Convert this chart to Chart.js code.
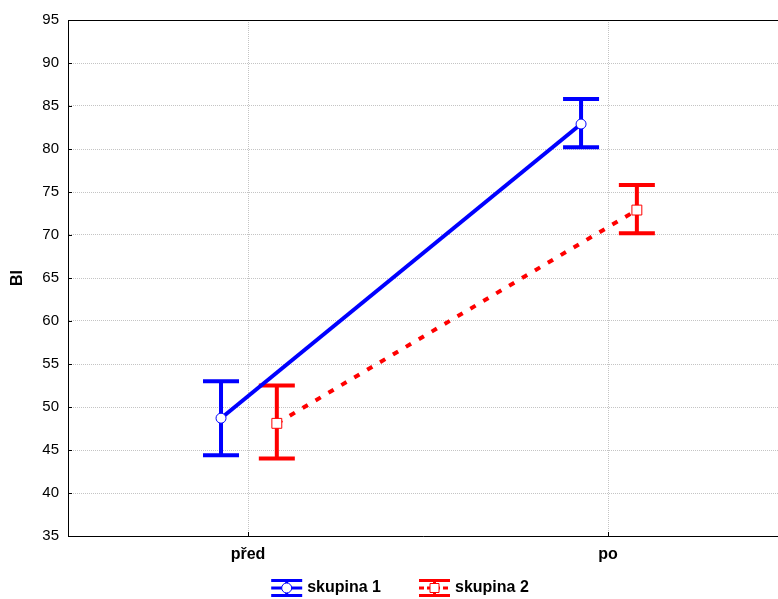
<!DOCTYPE html>
<html lang="cs">
<head>
<meta charset="UTF-8">
<title>BI před / po</title>
<script src="https://cdn.jsdelivr.net/npm/chart.js"></script>
<style>
    html, body { margin: 0; padding: 0; background: #fff; }
    #wrap { width: 778px; height: 599px; }
</style>
</head>
<body>
<div id="wrap"><canvas id="biChart"></canvas></div>
<script>
const categories = ['před', 'po'];
const seriesNames = ['skupina 1', 'skupina 2'];

const group1Mean = [48.7, 82.9];
const group1Low  = [44.4, 80.2];
const group1High = [53.0, 85.8];

const group2Mean = [48.1, 72.9];
const group2Low  = [44.0, 70.2];
const group2High = [52.5, 75.8];

const yMin = 35, yMax = 95, yStep = 5;

// horizontal shift of each group around the category position
const shift1 = -0.075;
const shift2 = 0.08;

const baseFont = '"Liberation Sans", Arial, sans-serif';

function points(means, shift) {
    return means.map((v, i) => ({ x: i + 1 + shift, y: v }));
}

// legend icon: error bar with marker, drawn at (x, cy)
function drawIcon(ctx, x, cy, color, dashed, square) {
    const w = 31;
    ctx.save();
    ctx.strokeStyle = color;
    ctx.lineWidth = 3;
    ctx.beginPath();
    ctx.moveTo(x, cy - 7.5); ctx.lineTo(x + w, cy - 7.5);
    ctx.moveTo(x, cy + 7.5); ctx.lineTo(x + w, cy + 7.5);
    ctx.moveTo(x + w / 2, cy - 7); ctx.lineTo(x + w / 2, cy + 7);
    ctx.stroke();
    ctx.setLineDash(dashed ? [5, 3] : []);
    ctx.beginPath();
    ctx.moveTo(x, cy); ctx.lineTo(x + w, cy);
    ctx.stroke();
    ctx.setLineDash([]);
    ctx.fillStyle = '#fff';
    ctx.lineWidth = 1;
    ctx.beginPath();
    if (square) ctx.rect(x + w / 2 - 4.5, cy - 4.5, 9, 9);
    else ctx.arc(x + w / 2, cy, 5, 0, Math.PI * 2);
    ctx.fill();
    ctx.stroke();
    ctx.restore();
}

const decorations = {
    id: 'decorations',
    beforeDatasetsDraw(chart) {
        const { ctx, scales: { x, y }, chartArea: a } = chart;
        // error bars
        chart.data.datasets.forEach(ds => {
            ds.data.forEach((p, j) => {
                const px = x.getPixelForValue(p.x);
                const lo = y.getPixelForValue(ds.errLow[j]);
                const hi = y.getPixelForValue(ds.errHigh[j]);
                ctx.save();
                ctx.strokeStyle = ds.borderColor;
                ctx.lineWidth = 4;
                ctx.beginPath();
                ctx.moveTo(px, lo); ctx.lineTo(px, hi);
                ctx.moveTo(px - 18, lo); ctx.lineTo(px + 18, lo);
                ctx.moveTo(px - 18, hi); ctx.lineTo(px + 18, hi);
                ctx.stroke();
                ctx.restore();
            });
        });
        // inner tick marks
        ctx.save();
        ctx.strokeStyle = '#000';
        ctx.lineWidth = 1;
        ctx.beginPath();
        y.ticks.forEach(t => {
            const py = Math.round(y.getPixelForValue(t.value)) + 0.5;
            ctx.moveTo(a.left, py); ctx.lineTo(a.left + 4, py);
        });
        x.ticks.forEach(t => {
            const px = Math.round(x.getPixelForValue(t.value)) + 0.5;
            ctx.moveTo(px, a.bottom); ctx.lineTo(px, a.bottom - 4);
        });
        ctx.stroke();
        ctx.restore();
    },
    afterDraw(chart) {
        const { ctx, chartArea: a } = chart;
        // top frame line
        ctx.save();
        ctx.strokeStyle = '#000';
        ctx.lineWidth = 1;
        ctx.beginPath();
        ctx.moveTo(a.left, a.top + 0.5);
        ctx.lineTo(a.right, a.top + 0.5);
        ctx.stroke();

        // legend
        const cy = 588;
        ctx.font = 'bold 16px ' + baseFont;
        ctx.fillStyle = '#000';
        ctx.textBaseline = 'middle';
        const iconW = 31, gap = 5, spacing = 38;
        const widths = chart.data.datasets.map(ds => ctx.measureText(ds.label).width);
        const total = widths.reduce((s, w) => s + iconW + gap + w, 0) + spacing * (widths.length - 1);
        let lx = 400 - total / 2;
        chart.data.datasets.forEach((ds, i) => {
            drawIcon(ctx, lx, cy, ds.borderColor, ds.borderDash && ds.borderDash.length > 0, ds.pointStyle === 'rect');
            ctx.fillText(ds.label, lx + iconW + gap, cy);
            lx += iconW + gap + widths[i] + spacing;
        });
        ctx.restore();
    }
};

new Chart(document.getElementById('biChart'), {
    type: 'scatter',
    data: {
        datasets: [{
            label: seriesNames[0],
            data: points(group1Mean, shift1),
            errLow: group1Low,
            errHigh: group1High,
            showLine: true,
            borderColor: '#0000ff',
            borderWidth: 4,
            pointStyle: 'circle',
            pointRadius: 5,
            pointBorderWidth: 1,
            pointBackgroundColor: '#fff',
            pointBorderColor: '#0000ff'
        }, {
            label: seriesNames[1],
            data: points(group2Mean, shift2),
            errLow: group2Low,
            errHigh: group2High,
            showLine: true,
            borderColor: '#ff0000',
            borderWidth: 4,
            borderDash: [6, 9],
            pointStyle: 'rect',
            pointRadius: 7,
            pointBorderWidth: 1,
            pointBackgroundColor: '#fff',
            pointBorderColor: '#ff0000'
        }]
    },
    options: {
        responsive: true,
        maintainAspectRatio: false,
        animation: false,
        layout: { autoPadding: false, padding: { top: 20, right: 0, left: 0, bottom: 33 } },
        scales: {
            x: {
                type: 'linear',
                min: 0.5,
                max: 2.472,
                afterBuildTicks: s => { s.ticks = categories.map((c, i) => ({ value: i + 1 })); },
                afterFit: s => { s.height = 30; s.paddingRight = 0; s.paddingLeft = 0; },
                ticks: {
                    callback: v => categories[v - 1] || '',
                    color: '#000',
                    font: { family: baseFont, size: 16, weight: 'bold' },
                    padding: 9,
                    maxRotation: 0
                },
                grid: { color: '#c4c4c4', drawTicks: false },
                border: { color: '#000', width: 1, dash: [1, 1] }
            },
            y: {
                min: yMin,
                max: yMax,
                afterFit: s => { s.width = 68; },
                ticks: {
                    stepSize: yStep,
                    color: '#000',
                    font: { family: baseFont, size: 15 },
                    padding: 9
                },
                grid: { color: '#c4c4c4', drawTicks: false },
                border: { color: '#000', width: 1, dash: [1, 1] },
                title: {
                    display: true,
                    text: 'BI',
                    color: '#000',
                    font: { family: baseFont, size: 16, weight: 'bold' },
                    padding: { top: 8, bottom: 0 }
                }
            }
        },
        plugins: {
            legend: { display: false },
            tooltip: { enabled: false }
        }
    },
    plugins: [decorations]
});
</script>
</body>
</html>
